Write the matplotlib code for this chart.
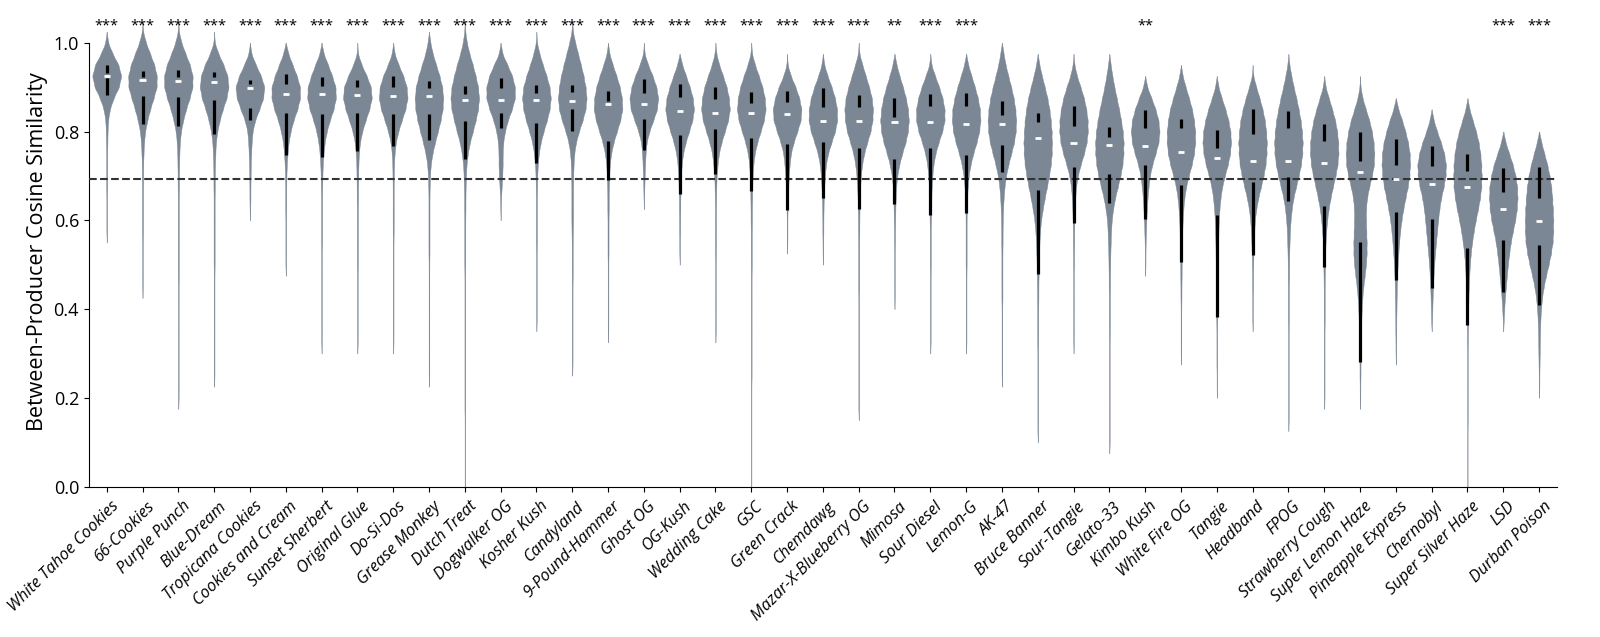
import numpy as np
import matplotlib
matplotlib.use("Agg")
import matplotlib.pyplot as plt
import matplotlib.transforms as mtransforms
from matplotlib import mlab

plt.rcParams['font.family'] = ['Open Sans', 'DejaVu Sans']

strains = ['White Tahoe Cookies', '66-Cookies', 'Purple Punch', 'Blue-Dream', 'Tropicana Cookies',
           'Cookies and Cream', 'Sunset Sherbert', 'Original Glue', 'Do-Si-Dos', 'Grease Monkey',
           'Dutch Treat', 'Dogwalker OG', 'Kosher Kush', 'Candyland', '9-Pound-Hammer', 'Ghost OG',
           'OG-Kush', 'Wedding Cake', 'GSC', 'Green Crack', 'Chemdawg', 'Mazar-X-Blueberry OG',
           'Mimosa', 'Sour Diesel', 'Lemon-G', 'AK-47', 'Bruce Banner', 'Sour-Tangie', 'Gelato-33',
           'Kimbo Kush', 'White Fire OG', 'Tangie', 'Headband', 'FPOG', 'Strawberry Cough',
           'Super Lemon Haze', 'Pineapple Express', 'Chernobyl', 'Super Silver Haze', 'LSD',
           'Durban Poison']

stars = ['***'] * 22 + ['**', '***', '***', '', '', '', '', '**', '', '', '', '', '', '', '', '', '',
                        '***', '***']

# similarity profile: first level, then relative width every 0.025 downwards
prof_top = [1.0, 1.025, 1.025, 1.0, 0.975, 0.975, 0.975, 0.975, 0.975, 1.0,
            1.025, 0.975, 1.0, 1.025, 0.975, 0.975, 0.95, 0.975, 0.975, 0.95,
            0.95, 0.975, 0.95, 0.95, 0.95, 0.975, 0.95, 0.95, 0.95, 0.9,
            0.925, 0.9, 0.925, 0.95, 0.9, 0.9, 0.85, 0.825, 0.85, 0.775, 0.775]

prof_w = [
    [8, 35, 70, 87, 72, 40, 18, 8, 5, 4, 3, 3, 3, 3, 2, 2, 2, 2],
    [3, 20, 45, 70, 85, 84, 65, 45, 28, 15, 9, 6, 4, 4, 3, 3, 3, 3, 3, 2, 2, 2, 2, 2],
    [3, 18, 42, 68, 84, 83, 66, 45, 28, 15, 9, 6, 5, 4, 4, 3, 3, 3, 3, 3, 3, 3, 3, 2, 2, 2, 2, 2, 2, 2, 2, 2, 2, 2],
    [3, 25, 55, 78, 84, 72, 50, 32, 18, 10, 7, 5, 4, 4, 3, 3, 3, 3, 3, 3, 3, 2, 2, 2, 2, 2, 2, 2, 2, 2, 2],
    [8, 35, 65, 86, 78, 55, 30, 15, 10, 7, 5, 4, 3, 3, 2],
    [15, 40, 65, 84, 84, 68, 45, 28, 16, 10, 6, 4, 3, 3, 3, 2, 2, 2, 2, 2],
    [12, 38, 62, 82, 84, 70, 48, 30, 18, 11, 7, 5, 4, 3, 3, 3, 3, 3, 2, 2, 2, 2, 2, 2, 2, 2, 2],
    [3, 25, 55, 80, 85, 70, 48, 28, 15, 9, 6, 5, 4, 4, 3, 3, 3, 3, 3, 3, 2, 2, 2, 2, 2, 2, 2],
    [8, 32, 60, 80, 85, 72, 50, 30, 15, 8, 5, 4, 3, 3, 3, 3, 3, 2, 2, 2, 2, 2, 2, 2, 2, 2, 2],
    [8, 22, 42, 62, 78, 84, 80, 68, 52, 35, 20, 10, 6, 4, 3, 3, 3, 3, 3, 3, 2, 2, 2, 2, 2, 2, 2, 2, 2, 2, 2],
    [3, 12, 28, 48, 65, 80, 86, 80, 65, 48, 30, 18, 10, 7, 5, 4, 4, 3, 3, 3, 3, 3, 2, 2, 2, 2, 2, 2, 2, 2, 2,
     2, 2, 2, 2, 1, 1, 1, 1, 1, 1, 1],
    [10, 40, 68, 84, 84, 66, 42, 25, 15, 12, 12, 10, 6, 3, 2],
    [3, 18, 38, 60, 78, 85, 78, 62, 42, 25, 14, 8, 5, 4, 3, 3, 3, 3, 3, 2, 2, 2, 2, 2, 2, 2],
    [4, 18, 35, 52, 68, 80, 86, 80, 62, 40, 22, 12, 8, 6, 5, 5, 5, 5, 4, 3, 3, 3, 3, 2, 2, 2, 2, 2, 2, 2, 2],
    [8, 28, 50, 70, 82, 85, 72, 52, 32, 18, 10, 7, 5, 4, 4, 3, 3, 3, 3, 2, 2, 2, 2, 2, 2, 2],
    [4, 25, 52, 74, 85, 78, 55, 32, 16, 10, 7, 5, 3, 2],
    [15, 38, 60, 78, 85, 75, 55, 35, 20, 12, 8, 6, 4, 4, 3, 3, 2, 2],
    [5, 22, 45, 66, 80, 85, 75, 55, 35, 20, 12, 7, 5, 4, 3, 3, 3, 3, 3, 2, 2, 2, 2, 2, 2, 2],
    [4, 22, 45, 66, 80, 85, 75, 55, 35, 20, 12, 8, 6, 5, 4, 4, 3, 3, 3, 3, 2, 2, 2, 2, 2, 2, 2, 2, 2, 2,
     1, 1, 1, 1, 1, 1, 1, 1, 1, 1],
    [3, 22, 50, 72, 85, 80, 60, 38, 22, 15, 10, 7, 5, 3, 2, 2, 2],
    [8, 28, 52, 72, 84, 85, 72, 50, 30, 18, 12, 8, 5, 4, 3, 3, 2, 2],
    [4, 22, 42, 62, 78, 85, 82, 70, 50, 32, 20, 13, 9, 6, 5, 4, 4, 3, 3, 3, 3, 3, 2, 2, 2, 2, 2, 2, 2, 2, 2, 2, 2],
    [12, 30, 50, 68, 80, 85, 80, 65, 45, 28, 16, 10, 7, 5, 4, 3, 3, 2, 2, 2, 2, 2],
    [6, 28, 52, 72, 84, 84, 70, 48, 30, 18, 12, 8, 6, 5, 4, 3, 3, 3, 3, 2, 2, 2, 2, 2, 2, 2],
    [12, 32, 52, 70, 82, 85, 78, 62, 42, 26, 15, 9, 6, 4, 3, 3, 3, 3, 3, 2, 2, 2, 2, 2, 2, 2],
    [10, 22, 38, 55, 70, 80, 85, 82, 72, 55, 38, 24, 15, 10, 7, 5, 4, 4, 3, 3, 3, 3, 3, 2, 2, 2, 2, 2, 2, 2],
    [10, 25, 42, 58, 70, 78, 83, 85, 84, 78, 68, 55, 42, 30, 20, 14, 10, 8, 6, 5, 4, 4, 3, 3, 3, 3, 2, 2, 2, 2,
     2, 2, 2, 2],
    [5, 20, 42, 62, 76, 84, 85, 78, 62, 42, 25, 15, 10, 7, 5, 4, 4, 3, 3, 2, 2, 2, 2, 2, 2, 2],
    [8, 18, 30, 44, 58, 70, 80, 85, 84, 78, 66, 50, 34, 22, 14, 10, 8, 6, 5, 4, 4, 3, 3, 3, 3, 2, 2, 2, 2, 2,
     2, 2, 2, 2, 2],
    [12, 38, 62, 80, 86, 80, 62, 42, 28, 20, 14, 10, 7, 5, 3, 2, 2],
    [10, 28, 48, 66, 78, 85, 85, 78, 64, 46, 30, 20, 14, 10, 8, 6, 5, 4, 4, 3, 3, 2, 2, 2, 2, 2],
    [10, 30, 52, 70, 82, 86, 80, 66, 48, 32, 22, 16, 12, 10, 8, 7, 6, 5, 4, 4, 3, 3, 2, 2, 2, 2, 1, 1],
    [4, 22, 42, 60, 74, 82, 86, 84, 78, 66, 50, 34, 22, 14, 10, 7, 5, 4, 3, 3, 2, 2, 2],
    [6, 18, 32, 48, 62, 74, 82, 86, 84, 76, 62, 46, 30, 20, 13, 9, 7, 5, 4, 4, 3, 3, 3, 3, 2, 2, 2, 2, 2, 2,
     2, 2, 2],
    [8, 28, 48, 66, 78, 85, 86, 80, 68, 52, 38, 26, 18, 12, 8, 6, 5, 4, 3, 3, 3, 3, 2, 2, 2, 2, 2, 2, 2],
    [3, 15, 35, 56, 72, 82, 86, 84, 72, 55, 42, 36, 36, 38, 40, 40, 36, 28, 20, 14, 10, 8, 6, 5, 4, 3, 3, 2, 2],
    [15, 38, 58, 74, 84, 86, 82, 72, 58, 45, 34, 26, 20, 15, 11, 8, 6, 5, 4, 3, 3, 2, 2],
    [12, 32, 55, 74, 84, 82, 70, 55, 45, 38, 32, 26, 20, 15, 11, 8, 6, 4, 3],
    [12, 32, 52, 68, 78, 84, 86, 84, 76, 64, 50, 38, 28, 20, 15, 11, 8, 6, 5, 4, 3, 3, 2, 2, 2, 2, 2, 2, 2,
     1, 1, 1, 1, 1, 1],
    [14, 36, 58, 74, 84, 86, 82, 72, 58, 45, 36, 28, 22, 16, 10, 6, 3],
    [14, 32, 50, 64, 74, 80, 84, 86, 86, 82, 72, 58, 42, 28, 18, 12, 8, 6, 5, 4, 3, 2, 2],
]

# black bars (upper and lower part) and white median marks
bar_top = [0.951, 0.936, 0.938, 0.933, 0.917, 0.929, 0.922, 0.917, 0.926, 0.913,
           0.903, 0.920, 0.904, 0.904, 0.891, 0.919, 0.908, 0.901, 0.888, 0.891,
           0.897, 0.882, 0.876, 0.885, 0.886, 0.868, 0.841, 0.857, 0.811, 0.848,
           0.828, 0.803, 0.850, 0.847, 0.818, 0.798, 0.783, 0.768, 0.749, 0.717, 0.720]
bar_gap_hi = [0.931, 0.922, 0.922, 0.922, 0.907, 0.908, 0.902, 0.900, 0.900, 0.897,
              0.885, 0.899, 0.887, 0.888, 0.868, 0.886, 0.877, 0.873, 0.865, 0.867,
              0.856, 0.856, 0.833, 0.858, 0.857, 0.837, 0.822, 0.812, 0.787, 0.809,
              0.808, 0.764, 0.794, 0.807, 0.779, 0.734, 0.724, 0.723, 0.711, 0.664, 0.651]
bar_gap_lo = [0.921, 0.880, 0.878, 0.872, 0.852, 0.841, 0.839, 0.841, 0.840, 0.839,
              0.824, 0.842, 0.820, 0.850, 0.778, 0.829, 0.792, 0.805, 0.786, 0.773,
              0.777, 0.764, 0.739, 0.763, 0.748, 0.769, 0.668, 0.719, 0.704, 0.724,
              0.679, 0.613, 0.687, 0.697, 0.632, 0.552, 0.618, 0.602, 0.537, 0.555, 0.544]
bar_bot = [0.882, 0.817, 0.812, 0.794, 0.826, 0.748, 0.742, 0.756, 0.767, 0.782,
           0.738, 0.807, 0.728, 0.801, 0.690, 0.758, 0.660, 0.705, 0.666, 0.623,
           0.651, 0.625, 0.636, 0.612, 0.617, 0.708, 0.478, 0.595, 0.640, 0.603,
           0.505, 0.383, 0.521, 0.643, 0.495, 0.280, 0.465, 0.447, 0.364, 0.439, 0.409]
medians = [0.926, 0.915, 0.914, 0.911, 0.898, 0.885, 0.885, 0.883, 0.880, 0.880,
           0.872, 0.872, 0.870, 0.869, 0.862, 0.861, 0.847, 0.842, 0.842, 0.839,
           0.824, 0.823, 0.822, 0.821, 0.817, 0.817, 0.785, 0.775, 0.769, 0.768,
           0.754, 0.741, 0.733, 0.733, 0.729, 0.708, 0.693, 0.681, 0.674, 0.625, 0.599]

threshold = 0.693

STEP = 0.025
BW = 0.0125

vpstats = []
for top, w in zip(prof_top, prof_w):
    levels = top - STEP * np.arange(len(w))
    sample = np.repeat(levels, w)
    kde = mlab.GaussianKDE(sample, bw_method=lambda k: BW / np.std(k.dataset, ddof=1))
    coords = np.linspace(sample.min() - 2 * BW, sample.max() + 2 * BW, 400)
    vpstats.append(dict(coords=coords, vals=kde.evaluate(coords), mean=sample.mean(),
                        median=np.median(sample), min=sample.min(), max=sample.max()))

fig = plt.figure(figsize=(16, 6.37), dpi=100)
ax = fig.add_axes([0.0555, 0.236, 0.9176, 0.7387])

pos = np.arange(len(strains))
parts = ax.violin(vpstats, positions=pos, widths=0.8, showextrema=False)
for b in parts['bodies']:
    b.set_facecolor('#7b8794')
    b.set_edgecolor('#7b8794')
    b.set_linewidth(0.3)
    b.set_alpha(1)

ax.axhline(threshold, color='#333333', ls='--', lw=1.5, zorder=3)
ax.vlines(pos, bar_bot, bar_gap_lo, color='black', lw=2.3, zorder=4)
ax.vlines(pos, bar_gap_hi, bar_top, color='black', lw=2.3, zorder=4)
ax.hlines(medians, pos - 0.085, pos + 0.085, color='white', lw=2.0, zorder=5)

for x, s in zip(pos, stars):
    ax.text(x, 1.038, s, ha='center', va='center', fontsize=10.5)

ax.set_xlim(-0.5, len(strains) - 0.5)
ax.set_ylim(0, 1.06)
ax.spines['top'].set_visible(False)
ax.spines['right'].set_visible(False)
ax.spines['left'].set_bounds(0, 1)
ax.set_yticks([0.0, 0.2, 0.4, 0.6, 0.8, 1.0])
ax.set_xticks(pos)
ax.set_xticklabels(strains, rotation=45, ha='right', rotation_mode='anchor', fontstyle='italic', fontsize=11.8)
shift = mtransforms.ScaledTranslation(4 / 100, -2 / 100, fig.dpi_scale_trans)
for lab in ax.get_xticklabels():
    lab.set_transform(lab.get_transform() + shift)
ax.tick_params(axis='y', labelsize=13)
ax.set_ylabel('Between-Producer Cosine Similarity', fontsize=15.5)

fig.savefig('out.png', dpi=100)
